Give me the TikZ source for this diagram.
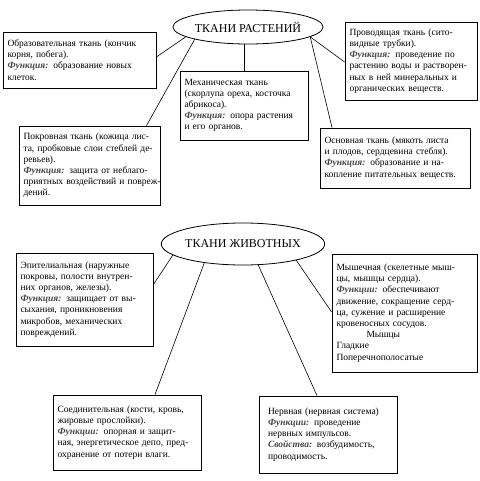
\documentclass[tikz,border=0pt]{standalone}
\usepackage{fontspec}
\setmainfont{Liberation Serif}
\usetikzlibrary{shapes.geometric}
\tikzset{
  box/.style={draw, line width=0.8pt, align=left, inner xsep=4.5pt, inner ysep=2pt,
    font=\fontsize{9.5}{11.2}\selectfont},
  oval/.style={draw, ellipse, line width=0.8pt, inner sep=0pt,
    font=\fontsize{12}{14}\selectfont},
  link/.style={line width=0.6pt},
}
\newcommand{\fnk}[1]{\textbf{\textit{\color{black!72}#1}}}
\newcommand{\jl}[1]{\makebox[\linewidth][s]{#1}\\}
\begin{document}
\begin{tikzpicture}[x=1pt,y=1pt]
\useasboundingbox (0,0) rectangle (479,-481);
% plants
\node[oval, minimum width=134pt, minimum height=34pt] (e1) at (248,-27) {ТКАНИ РАСТЕНИЙ};
\node[box, text width=144pt, minimum height=56pt] (b1) at (79.5,-60)
 {\jl{Образовательная ткань (кончик}корня, побега).\\
  \jl{\fnk{Функция:} образование новых}клеток.};
\node[box, text width=119pt, minimum height=69pt] (b2) at (244,-105.5)
 {\jl{Механическая ткань}\jl{(скорлупа ореха, косточка}абрикоса).\\
  \jl{\fnk{Функция:} опора растения}и его органов.};
\node[box, text width=123pt, minimum height=78pt] (b3) at (411,-61)
 {\jl{Проводящая ткань (сито-}видные трубки).\\
  \jl{\fnk{Функция:} проведение по}\jl{растению воды и растворен-}\jl{ных в ней минеральных и}органических веществ.};
\node[box, text width=132pt, minimum height=79pt] (b4) at (89.5,-165.5)
 {\jl{Покровная ткань (кожица лис-}\jl{та, пробковые слои стеблей де-}ревьев).\\
  \jl{\fnk{Функция:} защита от неблаго-}\jl{приятных воздействий и повреж-}дений.};
\node[box, text width=141pt, minimum height=60pt] (b5) at (395,-158)
 {\jl{Основная ткань (мякоть листа}и плодов, сердцевина стебля).\\
  \jl{\fnk{Функция:} образование и на-}копление питательных веществ.};
% animals
\node[oval, minimum width=152pt, minimum height=42pt] (e2) at (243,-244) {ТКАНИ ЖИВОТНЫХ};
\node[box, text width=128pt, minimum height=93pt] (b6) at (84.5,-299.5)
 {\jl{Эпителиальная (наружные}\jl{покровы, полости внутрен-}них органов, железы).\\
  \jl{\fnk{Функция:} защищает от вы-}\jl{сыхания, проникновения}\jl{микробов, механических}повреждений.};
\node[box, text width=136pt, minimum height=118pt] (b7) at (404.5,-313)
 {\jl{Мышечная (скелетные мыш-}цы, мышцы сердца).\\
  \jl{\fnk{Функции:} обеспечивают}\jl{движение, сокращение серд-}\jl{ца, сужение и расширение}кровеносных сосудов.\\
  \hspace*{30pt}Мышцы\\ Гладкие\\ Поперечнополосатые};
\node[box, text width=139pt, minimum height=75pt] (b8) at (127,-432.5)
 {\jl{Соединительная (кости, кровь,}жировые прослойки).\\
  \jl{\fnk{Функции:} опорная и защит-}\jl{ная, энергетическое депо, пред-}охранение от потери влаги.};
\node[box, text width=120pt, inner xsep=9pt, minimum height=77pt] (b9) at (328,-434.5)
 {Нервная (нервная система)\\
  \fnk{Функции:} проведение\\ нервных импульсов.\\
  \fnk{Свойства:} возбудимость,\\ проводимость.};
% connectors
\draw[link] (e1.189) -- ([yshift=3pt]b1.east);
\draw[link] (e1.193.5) -- ([xshift=57pt]b4.north);
\draw[link] (b2.north) -- (b2.north |- e1.south);
\draw[link] (e1.-9) -- ([yshift=-1pt]b3.west);
\draw[link] (e1.-9) -- ([xshift=-63pt]b5.north);
\draw[link] (e2.189.6) -- ([yshift=15pt]b6.east);
\draw[link] (e2.206.6) -- ([xshift=28pt]b8.north);
\draw[link] (e2.-17.7) -- ([yshift=1pt]b7.west);
\draw[link] (e2.-54.5) -- ([xshift=-11pt]b9.north);
\end{tikzpicture}
\end{document}
